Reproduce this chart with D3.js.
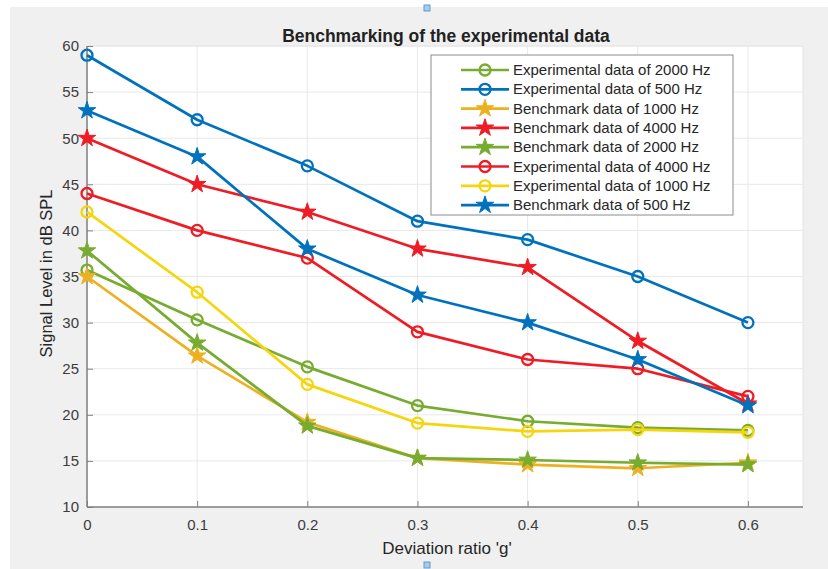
<!DOCTYPE html>
<html>
<head>
<meta charset="utf-8">
<script src="https://cdn.jsdelivr.net/npm/d3@7"></script>
<style>
  html, body { margin: 0; padding: 0; background: #ffffff; }
  svg { display: block; font-family: Arial, "Liberation Sans", Helvetica, sans-serif; }
</style>
</head>
<body>
<svg id="chart" width="828" height="569"></svg>
<script>
// Deviation ratio values on the x axis
const ratios = [0, 0.1, 0.2, 0.3, 0.4, 0.5, 0.6];

// Signal level (dB SPL) for each series
const exp2000   = [35.7, 30.3, 25.2, 21.0, 19.3, 18.6, 18.3];
const exp500    = [59, 52, 47, 41, 39, 35, 30];
const bench1000 = [35.0, 26.4, 19.2, 15.3, 14.6, 14.2, 14.8];
const bench4000 = [50, 45, 42, 38, 36, 28, 21.2];
const bench2000 = [37.8, 27.8, 18.8, 15.3, 15.1, 14.8, 14.6];
const exp4000   = [44, 40, 37, 29, 26, 25, 22];
const exp1000   = [42.0, 33.3, 23.3, 19.1, 18.2, 18.4, 18.1];
const bench500  = [53, 48, 38, 33, 30, 26, 21];

const seriesNames = [
  "Experimental data of 2000 Hz",
  "Experimental data of 500 Hz",
  "Benchmark data of 1000 Hz",
  "Benchmark data of 4000 Hz",
  "Benchmark data of 2000 Hz",
  "Experimental data of 4000 Hz",
  "Experimental data of 1000 Hz",
  "Benchmark data of 500 Hz"
];
const seriesValues = [exp2000, exp500, bench1000, bench4000, bench2000, exp4000, exp1000, bench500];
const seriesColors = ["#77ac30", "#0072bd", "#edb120", "#ee1c25", "#77ac30", "#ee1c25", "#f5d60e", "#0072bd"];
const seriesMarkers = ["circle", "circle", "star", "star", "star", "circle", "circle", "star"];

const xTicks = [0, 0.1, 0.2, 0.3, 0.4, 0.5, 0.6];
const yTicks = [10, 15, 20, 25, 30, 35, 40, 45, 50, 55, 60];

const titleText = "Benchmarking of the experimental data";
const xLabel = "Deviation ratio 'g'";
const yLabel = "Signal Level in dB SPL";

const svg = d3.select("#chart");
const W = 828, H = 569;
const plot = { left: 87, top: 46, right: 803, bottom: 507 };

// figure background
svg.append("rect").attr("x", 10).attr("y", 7).attr("width", W - 10).attr("height", H - 7).attr("fill", "#f0f0f0");

// small figure handles
[[424, 5], [424, 562]].forEach(([hx, hy]) => {
  svg.append("rect").attr("x", hx).attr("y", hy).attr("width", 6).attr("height", 6)
    .attr("fill", "#a9cbe8").attr("stroke", "#5b9bd5").attr("stroke-width", 1);
});

const x = d3.scaleLinear().domain([0, 0.65]).range([plot.left, plot.right]);
const y = d3.scaleLinear().domain([10, 60]).range([plot.bottom, plot.top]);

// axes background
svg.append("rect").attr("x", plot.left).attr("y", plot.top)
  .attr("width", plot.right - plot.left).attr("height", plot.bottom - plot.top)
  .attr("fill", "#ffffff").attr("stroke", "#e3e3e3").attr("stroke-width", 1);

// grid
const grid = svg.append("g");
grid.selectAll("line.gx").data(xTicks.slice(1)).join("line")
  .attr("x1", d => x(d)).attr("x2", d => x(d)).attr("y1", plot.top).attr("y2", plot.bottom)
  .attr("stroke", "#e8e8e8").attr("stroke-width", 1);
grid.selectAll("line.gy").data(yTicks.slice(1)).join("line")
  .attr("x1", plot.left).attr("x2", plot.right).attr("y1", d => y(d)).attr("y2", d => y(d))
  .attr("stroke", "#e8e8e8").attr("stroke-width", 1);

// axes with inward ticks
const xAxis = d3.axisBottom(x).tickValues(xTicks).tickSize(-6).tickPadding(12)
  .tickFormat(d => d === 0 ? "0" : d3.format(".1f")(d));
const yAxis = d3.axisLeft(y).tickValues(yTicks).tickSize(-6).tickPadding(8).tickFormat(d3.format("d"));

const gx = svg.append("g").attr("transform", `translate(0,${plot.bottom})`).call(xAxis);
gx.select(".domain").attr("stroke", "#808080").attr("stroke-width", 1.5).attr("d", `M${plot.left},0H${plot.right}`);
gx.selectAll(".tick line").attr("stroke", "#808080");
gx.selectAll(".tick text").attr("fill", "#3c3c3c").attr("font-size", 15);

const gy = svg.append("g").attr("transform", `translate(${plot.left},0)`).call(yAxis);
gy.select(".domain").attr("stroke", "#808080").attr("stroke-width", 1.5).attr("d", `M0,${plot.bottom}V${plot.top}`);
gy.selectAll(".tick line").attr("stroke", "#808080");
gy.selectAll(".tick text").attr("fill", "#3c3c3c").attr("font-size", 15);

// labels
svg.append("text").attr("x", 446).attr("y", 42).attr("text-anchor", "middle")
  .attr("font-size", 17.5).attr("font-weight", "bold").attr("fill", "#222").text(titleText);
svg.append("text").attr("x", 447).attr("y", 554).attr("text-anchor", "middle")
  .attr("font-size", 17).attr("fill", "#262626").text(xLabel);
svg.append("text").attr("transform", `translate(52,${(plot.top + plot.bottom) / 2 - 3}) rotate(-90)`)
  .attr("text-anchor", "middle").attr("font-size", 16.5).attr("fill", "#262626").text(yLabel);

// star marker path
const starPath = d3.symbol().type(d3.symbolStar).size(95)();

function drawMarker(g, kind, cx, cy, color) {
  if (kind === "circle") {
    g.append("circle").attr("cx", cx).attr("cy", cy).attr("r", 5.5)
      .attr("fill", "none").attr("stroke", color).attr("stroke-width", 2.3);
  } else {
    g.append("path").attr("d", starPath).attr("transform", `translate(${cx},${cy})`)
      .attr("fill", color).attr("stroke", color).attr("stroke-width", 1);
  }
}

const line = d3.line().x((d, i) => x(ratios[i])).y(d => y(d));
const lines = svg.append("g");
seriesValues.forEach((vals, s) => {
  const g = lines.append("g");
  g.append("path").datum(vals).attr("d", line).attr("fill", "none")
    .attr("stroke", seriesColors[s]).attr("stroke-width", 2.7).attr("stroke-linejoin", "round");
  vals.forEach((v, i) => drawMarker(g, seriesMarkers[s], x(ratios[i]), y(v), seriesColors[s]));
});

// legend
const lg = svg.append("g");
lg.append("rect").attr("x", 431).attr("y", 55).attr("width", 302).attr("height", 160)
  .attr("fill", "#ffffff").attr("stroke", "#8c8c8c").attr("stroke-width", 1);
seriesNames.forEach((name, s) => {
  const ly = 70 + s * 19.3;
  lg.append("line").attr("x1", 461).attr("x2", 509).attr("y1", ly).attr("y2", ly)
    .attr("stroke", seriesColors[s]).attr("stroke-width", 2.7);
  drawMarker(lg, seriesMarkers[s], 485, ly, seriesColors[s]);
  lg.append("text").attr("x", 513).attr("y", ly + 5).attr("font-size", 15)
    .attr("fill", "#262626").text(name);
});
</script>
</body>
</html>
